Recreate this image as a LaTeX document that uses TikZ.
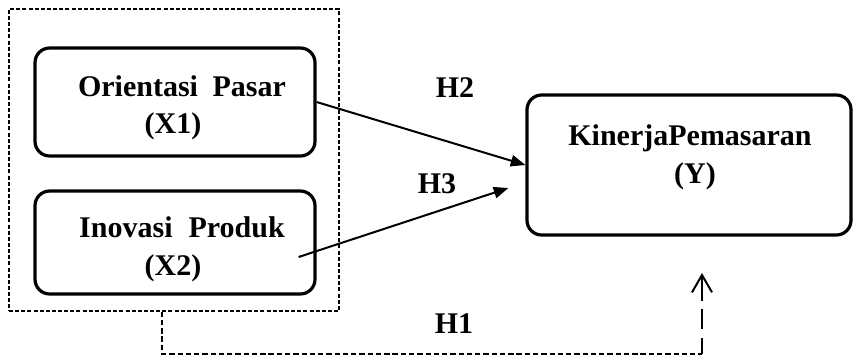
\documentclass[tikz,border=0pt]{standalone}
\usepackage{fontspec}
\setmainfont{Liberation Serif}
\usetikzlibrary{arrows.meta,calc}
\begin{document}
\begin{tikzpicture}[x=0.75pt,y=-0.75pt,
  varbox/.style={draw,line width=2.4pt,rounded corners=11pt,inner sep=0pt},
  lbl/.style={font=\fontsize{22.5}{27}\selectfont\bfseries,inner sep=0pt,anchor=base},
  link/.style={line width=1.5pt,-{Triangle[length=11pt,width=8.5pt]}},
  grp/.style={draw,line width=1pt,dash pattern=on 3pt off 1.6pt,inner sep=0pt}]
\useasboundingbox (0,0) rectangle (853,361);
% group box
\node[grp,minimum width=247.5pt,minimum height=226.5pt] (g) at (174,160) {};
% variable boxes
\node[varbox,minimum width=210pt,minimum height=81pt] (b1) at (175,102) {};
\node[varbox,minimum width=210pt,minimum height=77.25pt] (b2) at (175,242.5) {};
\node[varbox,minimum width=243pt,minimum height=105pt] (y) at (689,165) {};
% texts
\node[lbl] (t1a) at (182,96) {Orientasi\hspace{11pt}Pasar};
\node[lbl] (t1b) at (173,133) {(X1)};
\node[lbl] (t2a) at (182,237) {Inovasi\hspace{12pt}Produk};
\node[lbl] (t2b) at (173,275) {(X2)};
\node[lbl] (tya) at (690,145) {KinerjaPemasaran};
\node[lbl] (tyb) at (695,183) {(Y)};
% hypothesis labels
\node[lbl] (h2) at (455,97) {H2};
\node[lbl] (h3) at (437,193) {H3};
\node[lbl] (h1) at (454,333) {H1};
% H2, H3 arrows
\draw[link] (b1.east) -- (y.west);
\coordinate (h3s) at ($(b2.east)+(-18,14.5)$);
\coordinate (h3e) at ($(y.west)+(-17,23)$);
\draw[link] (h3s) -- (h3e);
% H1 dashed path
\coordinate (c1) at (162,354);
\coordinate (c2) at (702,354);
\coordinate (h1e) at (702,273);
\draw[line width=1.2pt,dash pattern=on 4pt off 2.2pt] (g.south -| c1) -- (c1) -- (c2);
\draw[line width=1.5pt,dash pattern=on 12pt off 6.5pt on 15.5pt off 6pt on 40pt off 0pt,
  -{Straight Barb[length=13pt,width=15pt,line width=1.5pt]}] (c2) -- (h1e);
\end{tikzpicture}
\end{document}
